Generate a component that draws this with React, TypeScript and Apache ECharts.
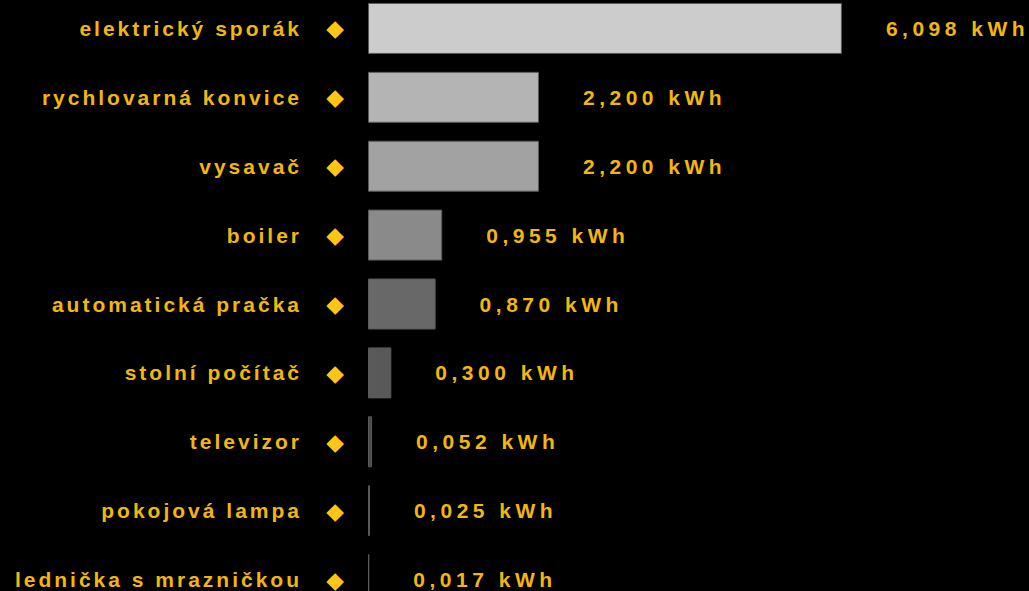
import React, { useEffect, useRef } from "react";
import * as echarts from "echarts";

const categories = [
  "elektrický sporák",
  "rychlovarná konvice",
  "vysavač",
  "boiler",
  "automatická pračka",
  "stolní počítač",
  "televizor",
  "pokojová lampa",
  "lednička s mrazničkou",
];
const values = [6.098, 2.2, 2.2, 0.955, 0.87, 0.3, 0.052, 0.025, 0.017];
const barColors = [
  "#cccccc",
  "#b4b4b4",
  "#a2a2a2",
  "#8a8a8a",
  "#686868",
  "#595959",
  "#4a4a4a",
  "#424242",
  "#3e3e3e",
];
const unit = "kWh";

const GOLD_TEXT = "#F2B70C";
const GOLD_DIAMOND = "#FFC516";
const FONT = "'Liberation Sans', Arial, sans-serif";

export default function App() {
  const ref = useRef<HTMLDivElement>(null);
  useEffect(() => {
    if (!ref.current) return;
    const chart = echarts.init(ref.current, undefined, { renderer: "svg" });
    chart.setOption({
      animation: false,
      backgroundColor: "#000000",
      grid: { left: 368, right: 117, top: 0, bottom: 0, containLabel: false },
      xAxis: {
        type: "value",
        min: 0,
        max: 7,
        show: false,
      },
      yAxis: [
        {
          type: "category",
          data: categories,
          inverse: true,
          axisLine: { show: false },
          axisTick: { show: false },
          splitLine: { show: false },
          axisLabel: {
            color: GOLD_TEXT,
            fontSize: 21,
            fontWeight: "bold",
            fontFamily: FONT,
            margin: 66,
          },
        },
        {
          type: "category",
          data: categories,
          inverse: true,
          position: "left",
          axisLine: { show: false },
          axisTick: { show: false },
          splitLine: { show: false },
          axisLabel: {
            color: GOLD_DIAMOND,
            fontSize: 23,
            fontFamily: "'DejaVu Sans', sans-serif",
            margin: 21,
            formatter: () => "◆",
          },
        },
      ],
      series: [
        {
          type: "bar",
          yAxisIndex: 0,
          barWidth: "74%",
          data: values.map((v, i) => ({
            value: v,
            itemStyle: { color: barColors[i] },
          })),
          itemStyle: { borderColor: "#5a5a5a", borderWidth: 1 },
          label: {
            show: true,
            position: "right",
            distance: 44,
            color: GOLD_TEXT,
            fontSize: 21,
            fontWeight: "bold",
            fontFamily: FONT,
            formatter: (p: any) =>
              Number(p.value).toFixed(3).replace(".", ",") + " " + unit,
          },
        },
      ],
    });
    return () => chart.dispose();
  }, []);
  return (
    <>
      <style>{`body{margin:0;background:#000;overflow:hidden;} #chart text{letter-spacing:4.5px;} #chart text[text-anchor="end"]{letter-spacing:3px;}`}</style>
      <div
        id="chart"
        ref={ref}
        style={{ position: "fixed", left: 0, top: -6, width: 1029, height: 620 }}
      />
    </>
  );
}
